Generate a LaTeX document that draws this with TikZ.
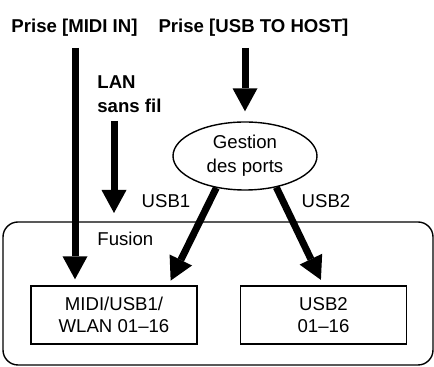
\documentclass[tikz,border=0pt]{standalone}
\usepackage{fontspec}
\setmainfont{Liberation Sans}
\usepackage{tikz}
\usetikzlibrary{arrows.meta,positioning,shapes.geometric}

\begin{document}
\begin{tikzpicture}[
  x=0.5pt, y=-0.5pt,
  every node/.style={font=\fontsize{9.3}{12}\selectfont},
  title/.style={font=\fontsize{9.3}{12}\selectfont\bfseries, align=left, inner sep=0pt},
  lbl/.style={inner sep=0pt},
  chbox/.style={draw, line width=0.7pt, minimum width=83pt, minimum height=29pt, align=center, inner sep=0pt, font=\fontsize{9.3}{11}\selectfont},
  portell/.style={draw, ellipse, line width=0.7pt, minimum width=72pt, minimum height=34pt, align=center, inner sep=0pt},
  frame/.style={draw, line width=0.7pt, rounded corners=7.5pt, minimum width=215pt, minimum height=71.5pt, inner sep=0pt},
  bigarr/.style={-{Triangle[length=11.5pt,width=12.5pt,line width=0pt]}, line width=3.5pt},
]
  \useasboundingbox (0,0) rectangle (434,367);

  % inputs
  \node[title] (midiin) at (74.5,28) {Prise [MIDI IN]};
  \node[title] (usbhost) at (253.5,28) {Prise [USB TO HOST]};
  \node[title, anchor=west] (lan) at (97,94) {LAN\\sans fil};

  % port handling and parts
  \node[portell] (ports) at (245,156) {Gestion\\des ports};
  \node[frame] (fusion) at (218,293.5) {};
  \node[lbl, anchor=west] (fusionlbl) at (97,239) {Fusion};
  \node[chbox] (midibox) at (114,315) {MIDI/USB1/\\WLAN 01--16};
  \node[chbox] (usb2box) at (323.5,315) {USB2\\01--16};

  \node[lbl] (usb1lbl) at (166,201) {USB1};
  \node[lbl] (usb2lbl) at (326,201) {USB2};

  \coordinate (midistart) at (75,48);
  \coordinate (usbstart) at (245,48);
  \coordinate (lanstart) at (114,121);
  \coordinate (lanend) at (114,213);
  \coordinate (usb1end) at (168,286);

  \draw[bigarr, shorten >=3pt] (midistart) -- (midistart |- midibox.north);
  \draw[bigarr] (lanstart) -- (lanend);
  \draw[bigarr, shorten >=5pt] (usbstart) -- (ports.north);
  \draw[bigarr, shorten >=3pt] (ports.-132) -- (usb1end);
  \draw[bigarr, shorten >=3pt] (ports.-45) -- (usb2box.north);
\end{tikzpicture}
\end{document}
